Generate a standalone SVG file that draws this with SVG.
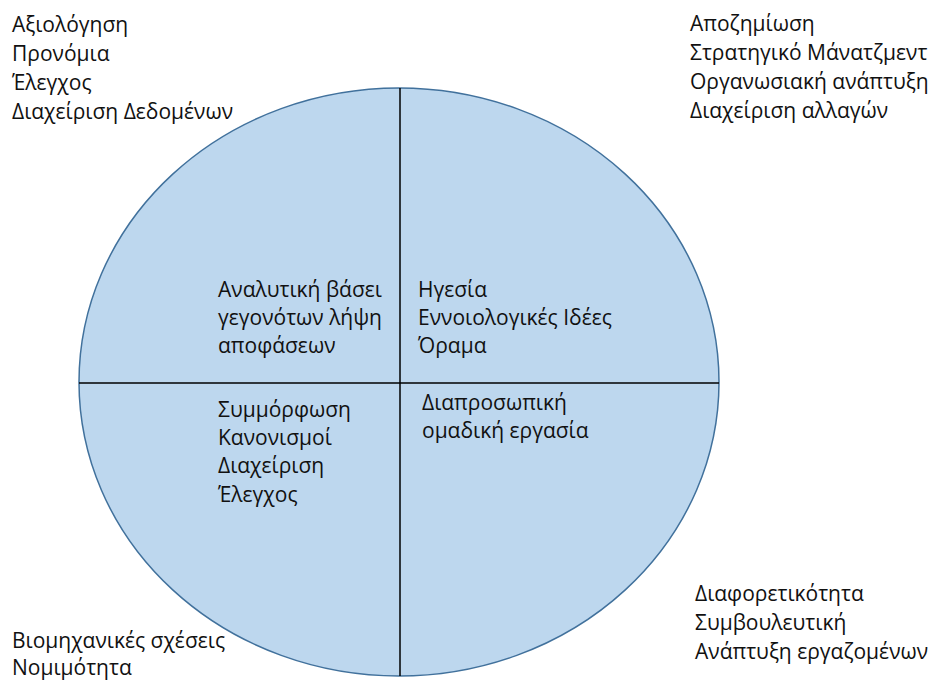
<svg xmlns="http://www.w3.org/2000/svg" width="935" height="681" viewBox="0 0 935 681">
  <style>
    text { font-family: "Open Sans", "Noto Sans", "DejaVu Sans", sans-serif; font-size: 21px; fill: #111111; }
    .disc { fill: #bdd7ee; stroke: #41719c; stroke-width: 1.5; }
    .axis { stroke: #000; stroke-width: 1.5; fill: none; }
  </style>
  <rect width="935" height="681" fill="#ffffff"/>

  <g id="circle">
    <ellipse class="disc" cx="399" cy="382" rx="320" ry="294"/>
  </g>

  <g id="connectors">
    <line class="axis" x1="400" y1="88" x2="400" y2="676"/>
    <line class="axis" x1="79" y1="383" x2="719" y2="383"/>
  </g>

  <g id="top-left">
    <text x="12" y="32">Αξιολόγηση</text>
    <text x="12" y="61">Προνόμια</text>
    <text x="12" y="90">Έλεγχος</text>
    <text x="12" y="119">Διαχείριση Δεδομένων</text>
  </g>

  <g id="top-right">
    <text x="690" y="31">Αποζημίωση</text>
    <text x="690" y="60">Στρατηγικό Μάνατζμεντ</text>
    <text x="690" y="89">Οργανωσιακή ανάπτυξη</text>
    <text x="690" y="118">Διαχείριση αλλαγών</text>
  </g>

  <g id="quadrant-tl">
    <text x="218" y="297">Αναλυτική βάσει</text>
    <text x="218" y="325">γεγονότων λήψη</text>
    <text x="218" y="353">αποφάσεων</text>
  </g>

  <g id="quadrant-tr">
    <text x="418" y="297">Ηγεσία</text>
    <text x="418" y="325">Εννοιολογικές Ιδέες</text>
    <text x="418" y="353">Όραμα</text>
  </g>

  <g id="quadrant-bl">
    <text x="218" y="417">Συμμόρφωση</text>
    <text x="218" y="445">Κανονισμοί</text>
    <text x="218" y="473">Διαχείριση</text>
    <text x="218" y="502">Έλεγχος</text>
  </g>

  <g id="quadrant-br">
    <text x="422" y="410">Διαπροσωπική</text>
    <text x="422" y="438">ομαδική εργασία</text>
  </g>

  <g id="bottom-left">
    <text x="12" y="648">Βιομηχανικές σχέσεις</text>
    <text x="12" y="675">Νομιμότητα</text>
  </g>

  <g id="bottom-right">
    <text x="695" y="601">Διαφορετικότητα</text>
    <text x="695" y="630">Συμβουλευτική</text>
    <text x="695" y="659">Ανάπτυξη εργαζομένων</text>
  </g>
</svg>
